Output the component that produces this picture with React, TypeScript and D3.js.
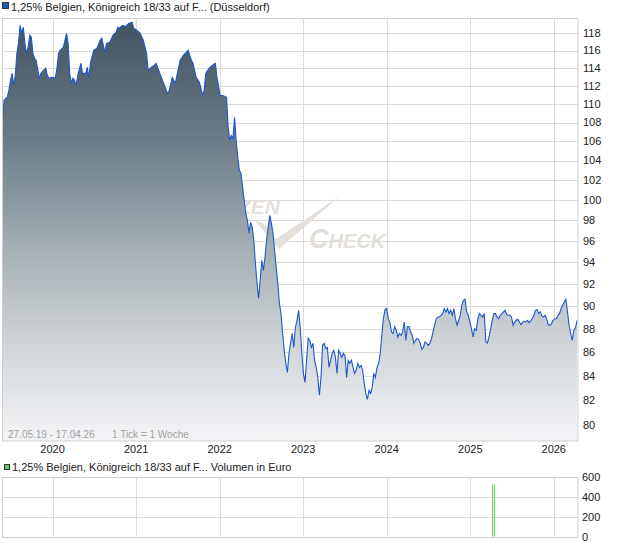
import React from "react";
import * as d3 from "d3";

// ---- data (weekly ticks since 27.05.2019) ----
const startDate = new Date(2019, 4, 27);
const endDate = new Date(2026, 3, 17);

const weekIndex = [
  0, 1, 3, 4, 5, 6, 7, 8, 9, 10, 11, 12, 13, 14, 15, 16, 17, 18, 19, 20, 21, 23, 24, 27, 28, 29, 31, 33, 34, 35, 36, 38, 40, 41, 42, 43, 44, 45, 46, 47, 49, 50, 52, 53, 54, 55, 57, 59, 61, 62, 64, 65, 67, 69, 71, 72, 73, 75, 77, 79, 81, 82, 84, 86, 88, 90, 91, 93, 95, 96, 98, 100, 103, 104, 105, 106, 108, 109, 111, 113, 116, 118, 119, 121, 123, 124, 125, 126, 127, 129, 131, 133, 134, 136, 138, 140, 141, 142, 143, 144, 145, 146, 147, 148, 149, 150, 151, 152, 153, 154, 155, 156, 157, 158, 159, 160, 161, 162, 163, 164, 165, 166, 167, 168, 169, 170, 171, 172, 173, 174, 175, 176, 177, 178, 179, 180, 181, 182, 183, 184, 185, 186, 187, 188, 189, 190, 191, 192, 193, 194, 195, 196, 197, 198, 199, 200, 201, 202, 203, 204, 205, 206, 207, 208, 209, 210, 211, 212, 213, 214, 215, 216, 217, 218, 219, 220, 221, 222, 223, 224, 225, 226, 227, 228, 229, 230, 231, 232, 233, 234, 235, 236, 237, 238, 239, 240, 241, 242, 243, 244, 245, 246, 247, 248, 249, 250, 251, 252, 253, 254, 255, 256, 257, 258, 259, 260, 261, 262, 263, 264, 265, 266, 267, 268, 269, 270, 271, 272, 273, 274, 275, 276, 277, 278, 279, 280, 281, 282, 283, 284, 285, 286, 287, 288, 289, 290, 291, 292, 293, 294, 295, 296, 297, 298, 299, 300, 301, 302, 303, 304, 305, 306, 307, 308, 309, 310, 311, 312, 314, 315, 316, 317, 318, 319, 320, 321, 322, 323, 324, 325, 326, 327, 328, 329, 331, 332, 333, 334, 335, 336, 337, 338, 339, 340, 341, 342, 343, 344, 345, 346, 347, 348, 349, 350, 351, 352, 353, 354, 355, 356, 357, 358, 359,
];

const price = [
  108.24, 110.41, 110.77, 111.51, 112.62, 113.4, 112.07, 113.18, 115.68, 116.83, 118.94, 118.0, 118.7, 116.83, 115.68, 116.37, 117.77, 117.53, 115.68, 115.1, 114.88, 112.85, 113.41, 113.98, 113.18, 112.85, 112.96, 112.85, 113.98, 115.68, 116.03, 116.37, 118.0, 116.83, 113.4, 112.29, 112.85, 112.62, 112.07, 113.18, 114.54, 113.4, 113.4, 114.09, 112.85, 114.65, 116.03, 116.26, 117.18, 117.42, 115.8, 116.83, 116.95, 117.77, 118.12, 118.7, 118.59, 118.94, 118.8, 119.17, 119.29, 118.59, 118.35, 118.0, 117.18, 115.68, 113.75, 114.09, 114.31, 114.54, 113.52, 112.62, 111.18, 111.4, 112.07, 112.96, 112.29, 113.18, 114.88, 115.45, 116.03, 114.88, 114.54, 112.96, 112.4, 111.73, 110.96, 111.51, 113.4, 113.98, 114.31, 114.54, 112.96, 110.96, 110.9, 110.74, 107.49, 106.12, 106.6, 106.3, 108.56, 106.12, 104.34, 103.0, 102.7, 101.28, 99.98, 98.7, 98.02, 96.77, 97.82, 97.34, 96.09, 93.92, 92.17, 90.72, 92.35, 94.2, 93.27, 94.48, 96.09, 97.34, 98.5, 97.73, 96.77, 95.14, 93.55, 92.08, 90.27, 89.38, 87.62, 86.15, 85.05, 84.29, 85.9, 86.75, 87.62, 86.4, 88.15, 88.76, 89.64, 88.15, 85.9, 84.2, 83.45, 85.3, 87.2, 87.0, 86.4, 86.75, 85.3, 84.7, 83.87, 82.4, 83.87, 86.6, 86.75, 86.3, 86.4, 84.7, 85.3, 85.9, 86.15, 85.55, 84.2, 86.15, 85.9, 85.55, 85.9, 85.7, 83.87, 85.3, 85.05, 85.3, 84.7, 84.2, 84.46, 85.05, 84.7, 84.88, 84.46, 83.37, 82.55, 82.06, 82.8, 82.55, 83.05, 84.2, 83.87, 84.7, 85.05, 85.9, 87.5, 88.93, 89.7, 89.8, 88.93, 88.6, 87.73, 87.6, 88.2, 87.9, 87.3, 87.6, 87.45, 87.73, 88.6, 87.0, 88.2, 88.2, 87.73, 87.45, 86.75, 87.0, 87.18, 87.1, 86.75, 86.24, 86.4, 86.87, 86.75, 86.58, 86.75, 87.15, 87.73, 88.32, 88.9, 89.05, 89.05, 89.2, 89.35, 89.8, 89.5, 89.8, 89.35, 89.64, 89.2, 89.8, 88.9, 88.32, 88.76, 89.2, 90.1, 90.54, 90.63, 89.5, 89.2, 88.6, 88.02, 87.3, 88.02, 87.88, 88.9, 89.35, 89.2, 89.05, 89.35, 86.87, 86.78, 87.3, 88.02, 88.76, 89.35, 89.35, 89.05, 88.9, 89.2, 89.35, 89.64, 89.27, 89.2, 89.2, 89.05, 88.32, 88.6, 88.76, 88.84, 88.6, 88.37, 88.6, 88.67, 88.6, 88.76, 88.56, 88.9, 89.2, 89.64, 89.72, 89.35, 89.5, 89.14, 89.05, 89.2, 88.9, 88.37, 88.32, 88.47, 88.76, 88.9, 88.9, 89.2, 89.35, 89.8, 90.1, 90.4, 90.63, 89.5, 88.32, 87.6, 87.0, 87.9, 88.1, 88.76,
];

const volumeWeeks = [306, 307];
const volumeValues = [530, 530];

const yearTicks = [2020, 2021, 2022, 2023, 2024, 2025, 2026];
const priceTicks = [80, 82, 84, 86, 88, 90, 92, 94, 96, 98, 100, 102, 104, 106, 108, 110, 112, 114, 116, 118];
const volumeTicks = [0, 200, 400, 600];

const titleText = "1,25% Belgien, Königreich 18/33 auf F... (Düsseldorf)";
const volumeTitle = "1,25% Belgien, Königreich 18/33 auf F... Volumen in Euro";
const rangeText = "27.05.19 - 17.04.26";
const tickText = "1 Tick = 1 Woche";

const FONT = "'Liberation Sans', Arial, sans-serif";

export default function App() {
  const left = 2.5;
  const right = 578;
  const top = 18.5;
  const bottom = 441;
  const vTop = 477.3;
  const vBottom = 536.7;

  const x = d3.scaleTime().domain([startDate, endDate]).range([left, right]);
  const y = d3.scaleLog().domain([80, 118]).range([425, 33.3]);
  const yv = d3.scaleLinear().domain([0, 600]).range([vBottom, vTop]);

  const series = weekIndex.map((w, i) => ({
    date: d3.timeDay.offset(startDate, w * 7),
    v: price[i],
  }));

  const area = d3
    .area<{ date: Date; v: number }>()
    .x((d) => x(d.date))
    .y0(bottom)
    .y1((d) => y(d.v));
  const line = d3
    .line<{ date: Date; v: number }>()
    .x((d) => x(d.date))
    .y((d) => y(d.v));

  const gridColor = "#dcdcdc";

  return (
    <div style={{ position: "absolute", left: 0, top: 0 }}>
      <svg width={620} height={546} style={{ display: "block", fontFamily: FONT }}>
        <defs>
          <linearGradient id="fillGrad" gradientUnits="userSpaceOnUse" x1="0" y1={top} x2="0" y2={bottom}>
            <stop offset="0" stopColor="#3f5260" />
            <stop offset="0.3" stopColor="#6e7e88" />
            <stop offset="0.55" stopColor="#a6b0b5" />
            <stop offset="0.8" stopColor="#d5d9dc" />
            <stop offset="1" stopColor="#f3f4f6" />
          </linearGradient>
        </defs>
        <rect width={620} height={546} fill="#ffffff" />

        {/* title legend */}
        <rect x={2.5} y={2.5} width={6} height={6} fill="#2156c0" stroke="#333" strokeWidth={1} />
        <text x={11} y={10.5} fontSize={11} fill="#222">{titleText}</text>

        {/* main grid */}
        {priceTicks.map((t) => (
          <line key={"h" + t} x1={left} x2={right} y1={Math.round(y(t)) + 0.5} y2={Math.round(y(t)) + 0.5} stroke={gridColor} />
        ))}
        {yearTicks.map((yr) => {
          const xx = Math.round(x(new Date(yr, 0, 1))) + 0.5;
          return <line key={"v" + yr} x1={xx} x2={xx} y1={top} y2={bottom} stroke={gridColor} />;
        })}

        {/* watermark */}
        <g fill="#e4dfd8" fontStyle="italic" fontWeight="bold">
          <text x={280} y={214} fontSize={21} textAnchor="end">FINANZEN</text>
          <text x={309} y={248}>
            <tspan fontSize={27}>C</tspan>
            <tspan fontSize={20}>HECK</tspan>
          </text>
          <path d="M255,221 L263,223 L276,239 L340,196 L279,249 Z" />
        </g>

        {/* area + line */}
        <path d={area(series) || ""} fill="url(#fillGrad)" />
        <path d={line(series) || ""} fill="none" stroke="#1f57cc" strokeWidth={1.1} />

        {/* frame */}
        <rect x={left} y={top} width={right - left} height={bottom - top} fill="none" stroke="#cfcfcf" />

        {/* range text */}
        <text x={8} y={438} fontSize={10} fill="#a3a3a3">{rangeText}</text>
        <text x={112} y={438} fontSize={10} fill="#a3a3a3">{tickText}</text>

        {/* y labels */}
        {priceTicks.map((t) => (
          <text key={"yl" + t} x={583} y={y(t)} dy="0.35em" fontSize={11} fill="#222">{t}</text>
        ))}

        {/* x labels */}
        {yearTicks.map((yr) => (
          <text key={"xl" + yr} x={x(new Date(yr, 0, 1))} y={453} fontSize={11} fill="#222" textAnchor="middle">{yr}</text>
        ))}

        {/* volume legend */}
        <rect x={4.5} y={464.5} width={5} height={5} fill="#5ccc5c" stroke="#333" strokeWidth={1} />
        <text x={12} y={471} fontSize={11} fill="#222">{volumeTitle}</text>

        {/* volume grid */}
        {volumeTicks.map((t) => (
          <line key={"vh" + t} x1={left} x2={right} y1={Math.round(yv(t)) + 0.5} y2={Math.round(yv(t)) + 0.5} stroke={gridColor} />
        ))}
        {yearTicks.map((yr) => {
          const xx = Math.round(x(new Date(yr, 0, 1))) + 0.5;
          return <line key={"vv" + yr} x1={xx} x2={xx} y1={vTop} y2={vBottom} stroke={gridColor} />;
        })}
        <rect x={left} y={Math.round(vTop) + 0.5} width={right - left} height={Math.round(vBottom) - Math.round(vTop)} fill="none" stroke="#cfcfcf" />

        {volumeWeeks.map((w, i) => {
          const xx = Math.round(x(d3.timeDay.offset(startDate, w * 7))) + 0.5;
          return <line key={"vb" + w} x1={xx} x2={xx} y1={yv(0)} y2={yv(volumeValues[i])} stroke="#55dd55" strokeWidth={1} />;
        })}

        {volumeTicks.map((t) => (
          <text key={"vl" + t} x={582} y={yv(t)} dy="0.35em" fontSize={11} fill="#222">{t}</text>
        ))}
      </svg>
    </div>
  );
}
